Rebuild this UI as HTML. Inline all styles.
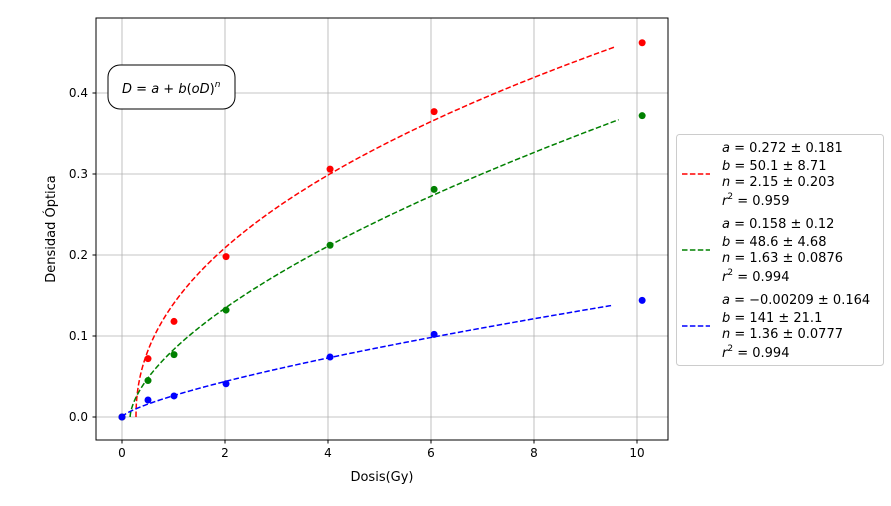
<!DOCTYPE html>
<html><head><meta charset="utf-8"><style>
body{margin:0;background:#fff}
svg text{font-family:"DejaVu Sans","Liberation Sans",sans-serif;fill:#000}
</style></head><body>
<svg id="c" width="891" height="501" viewBox="0 0 891 501" xmlns="http://www.w3.org/2000/svg">
<g id="grid"></g>
<g id="marks"></g>
<rect x="96" y="18" width="572" height="422" fill="none" stroke="#000" stroke-width="1"/>
<g id="ticks"></g>
<text x="382" y="481" font-size="13" text-anchor="middle">Dosis(Gy)</text>
<text transform="translate(55,229) rotate(-90)" font-size="13" text-anchor="middle">Densidad Óptica</text>
<g>
<rect x="108" y="65" width="127" height="44" rx="12" fill="#fff" stroke="#000"/>
<text x="122" y="93" font-size="13"><tspan font-style="italic">D</tspan> = <tspan font-style="italic">a</tspan> + <tspan font-style="italic">b</tspan>(<tspan font-style="italic">oD</tspan>)<tspan font-size="9" dy="-6" font-style="italic">n</tspan></text>
</g>
<g id="legend">
<rect x="676.5" y="134.5" width="207" height="231" rx="3" fill="#fff" stroke="#ccc"/>
</g>
</svg>
<script>
const xs = [0, 0.505, 1.01, 2.02, 4.04, 6.06, 10.1];
const redY = [0, 0.072, 0.118, 0.198, 0.306, 0.377, 0.462];
const greenY = [0, 0.045, 0.077, 0.132, 0.212, 0.281, 0.372];
const blueY = [0, 0.021, 0.026, 0.041, 0.074, 0.102, 0.144];
const fitA = [0.272, 0.158, -0.00209];
const fitB = [50.1, 48.6, 141];
const fitN = [2.15, 1.63, 1.36];
const fitYMax = [0.457, 0.367, 0.1377];
const xTicks = [0, 2, 4, 6, 8, 10];
const yTicks = [0, 0.1, 0.2, 0.3, 0.4];
const yTickLabels = ["0.0", "0.1", "0.2", "0.3", "0.4"];
const legendVals = [
 ["0.272 ± 0.181","50.1 ± 8.71","2.15 ± 0.203","0.959"],
 ["0.158 ± 0.12","48.6 ± 4.68","1.63 ± 0.0876","0.994"],
 ["−0.00209 ± 0.164","141 ± 21.1","1.36 ± 0.0777","0.994"]
];
const colors = ["#ff0000", "#008000", "#0000ff"];
const NS = "http://www.w3.org/2000/svg";
const X = v => 122 + v * 51.5;
const Y = v => 417 - v * 810;
function mk(tag, attrs, parent){const e=document.createElementNS(NS,tag);for(const k in attrs)e.setAttribute(k,attrs[k]);parent.appendChild(e);return e;}
const grid=document.getElementById('grid'), ticks=document.getElementById('ticks'), marks=document.getElementById('marks'), legend=document.getElementById('legend');
xTicks.forEach(t=>{
 const l=mk('line',{x1:X(t),x2:X(t),y1:18,y2:440,stroke:'#b0b0b0','stroke-width':0.8},grid);
 
 
 mk('line',{x1:X(t),x2:X(t),y1:440,y2:443.5,stroke:'#000'},ticks);
 const tx=mk('text',{x:X(t),y:457,'font-size':12,'text-anchor':'middle'},ticks);
 tx.textContent=t;
 
 
});
yTicks.forEach((t,i)=>{
 const l=mk('line',{x1:96,x2:668,y1:Y(t),y2:Y(t),stroke:'#b0b0b0','stroke-width':0.8},grid);
 
 
 mk('line',{x1:92.5,x2:96,y1:Y(t),y2:Y(t),stroke:'#000'},ticks);
 const tx=mk('text',{x:88,y:Y(t)+4,'font-size':12,'text-anchor':'end'},ticks);
 tx.textContent=yTickLabels[i];
 
 
});
const series=[redY,greenY,blueY];
const names=['red','green','blue'];
series.forEach((ys,s)=>{
 const ymax=fitYMax[s];
 let d='';
 for(let i=0;i<=200;i++){const y=ymax*i/200;const x=fitA[s]+fitB[s]*Math.pow(y,fitN[s]);d+=(i?'L':'M')+X(x).toFixed(2)+','+Y(y).toFixed(2);}
 const p=mk('path',{d:d,fill:'none',stroke:colors[s],'stroke-width':1.5,'stroke-dasharray':'5.5,2.4'},marks);
 
 
 ys.forEach((y,i)=>{
  const c=mk('circle',{cx:X(xs[i]),cy:Y(y),r:3.5,fill:colors[s]},marks);
  
  
 });
});
const vars=['a','b','n','r'];
legendVals.forEach((vals,s)=>{
 const base=147+s*76;
 const l=mk('line',{x1:682,x2:710,y1:base+27,y2:base+27,stroke:colors[s],'stroke-width':1.5,'stroke-dasharray':'5.5,2.4'},legend);
 
 
 const offs=[0,18,34,53];
 vals.forEach((t,j)=>{
  const tx=mk('text',{x:722,y:base+offs[j]+5,'font-size':13},legend);
  
  
  const v=mk('tspan',{'font-style':'italic'},tx); v.textContent=vars[j];
  if(j===3){const sup=mk('tspan',{'font-size':9,dy:-6},tx); sup.textContent='2'; const r=mk('tspan',{dy:6},tx); r.textContent=' = '+t;}
  else {const r=mk('tspan',{},tx); r.textContent=' = '+t;}
 });
});
</script>
</body></html>
